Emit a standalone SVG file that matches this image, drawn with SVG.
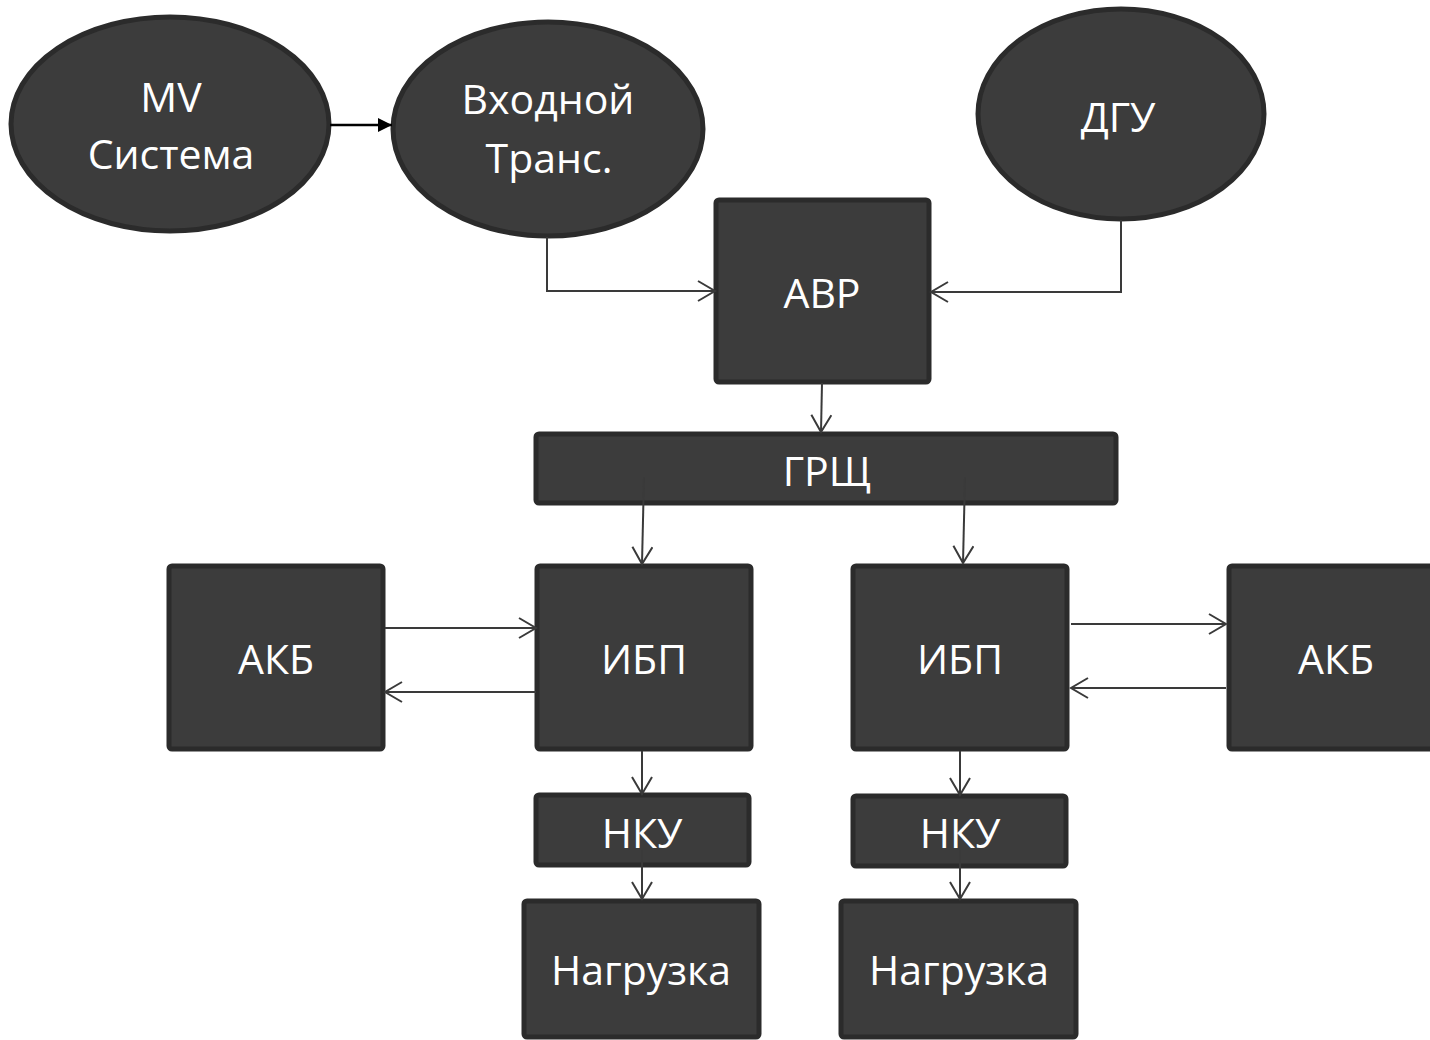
<svg xmlns="http://www.w3.org/2000/svg" width="1430" height="1040" viewBox="0 0 1430 1040">
  <defs>
    <style>
      .node { fill: #3c3c3c; stroke: #2b2b2b; stroke-width: 5; }
      .label { fill: #ffffff; font-family: "Open Sans", "Noto Sans", "DejaVu Sans", sans-serif; font-size: 41px; text-anchor: middle; }
      .wire { fill: none; stroke: #3a3a3a; stroke-width: 2; }
      .feed { fill: none; stroke: #000000; stroke-width: 2.5; }
    </style>
    <marker id="open" markerUnits="userSpaceOnUse" markerWidth="22" markerHeight="24" refX="18" refY="11" orient="auto">
      <path d="M1,1 L18,11 L1,21" fill="none" stroke="#3a3a3a" stroke-width="2"/>
    </marker>
    <marker id="solid" markerUnits="userSpaceOnUse" markerWidth="16" markerHeight="14" refX="14" refY="7" orient="auto">
      <path d="M0,0 L14,7 L0,14 Z" fill="#000000"/>
    </marker>
  </defs>

  <rect width="1430" height="1040" fill="#ffffff"/>

  <!-- nodes -->
  <g id="mv">
    <ellipse class="node" cx="170" cy="124" rx="159" ry="107"/>
    <text class="label" x="171" y="112">MV</text>
    <text class="label" x="171" y="169">Система</text>
  </g>
  <g id="transformer">
    <ellipse class="node" cx="548" cy="129" rx="155" ry="107"/>
    <text class="label" x="548" y="114">Входной</text>
    <text class="label" x="549" y="173">Транс.</text>
  </g>
  <g id="dgu">
    <ellipse class="node" cx="1121" cy="114" rx="143" ry="105"/>
    <text class="label" x="1118" y="132">ДГУ</text>
  </g>
  <g id="avr">
    <rect class="node" x="716" y="200" width="213" height="182" rx="3"/>
    <text class="label" x="822" y="308">АВР</text>
  </g>
  <g id="grsch">
    <rect class="node" x="536" y="434" width="580" height="69" rx="3"/>
    <text class="label" x="827" y="486">ГРЩ</text>
  </g>
  <g id="akb-left">
    <rect class="node" x="169" y="566" width="214" height="183" rx="3"/>
    <text class="label" x="276" y="674">АКБ</text>
  </g>
  <g id="ups-left">
    <rect class="node" x="537" y="566" width="214" height="183" rx="3"/>
    <text class="label" x="644" y="674">ИБП</text>
  </g>
  <g id="ups-right">
    <rect class="node" x="853" y="566" width="214" height="183" rx="3"/>
    <text class="label" x="960" y="674">ИБП</text>
  </g>
  <g id="akb-right">
    <rect class="node" x="1229" y="566" width="214" height="183" rx="3"/>
    <text class="label" x="1336" y="674">АКБ</text>
  </g>
  <g id="nku-left">
    <rect class="node" x="536" y="795" width="213" height="70" rx="3"/>
    <text class="label" x="642" y="848">НКУ</text>
  </g>
  <g id="nku-right">
    <rect class="node" x="853" y="796" width="213" height="70" rx="3"/>
    <text class="label" x="960" y="848">НКУ</text>
  </g>
  <g id="load-left">
    <rect class="node" x="524" y="901" width="235" height="136" rx="3"/>
    <text class="label" x="641" y="985">Нагрузка</text>
  </g>
  <g id="load-right">
    <rect class="node" x="841" y="901" width="235" height="136" rx="3"/>
    <text class="label" x="959" y="985">Нагрузка</text>
  </g>

  <!-- connectors -->
  <g id="connectors">
    <line class="feed" x1="330" y1="125" x2="392" y2="125" marker-end="url(#solid)"/>
    <polyline class="wire" points="547,237 547,291 715,291" marker-end="url(#open)"/>
    <polyline class="wire" points="1121,220 1121,292 931,292" marker-end="url(#open)"/>
    <line class="wire" x1="822" y1="383" x2="821" y2="432" marker-end="url(#open)"/>
    <line class="wire" x1="644" y1="477" x2="642" y2="564" marker-end="url(#open)"/>
    <line class="wire" x1="965" y1="477" x2="963" y2="563" marker-end="url(#open)"/>
    <line class="wire" x1="385" y1="628" x2="536" y2="628" marker-end="url(#open)"/>
    <line class="wire" x1="536" y1="692" x2="385" y2="692" marker-end="url(#open)"/>
    <line class="wire" x1="1071" y1="624" x2="1226" y2="624" marker-end="url(#open)"/>
    <line class="wire" x1="1226" y1="688" x2="1071" y2="688" marker-end="url(#open)"/>
    <line class="wire" x1="642" y1="751" x2="642" y2="794" marker-end="url(#open)"/>
    <line class="wire" x1="960" y1="751" x2="960" y2="795" marker-end="url(#open)"/>
    <line class="wire" x1="642" y1="850" x2="642" y2="899" marker-end="url(#open)"/>
    <line class="wire" x1="960" y1="850" x2="960" y2="899" marker-end="url(#open)"/>
  </g>
</svg>
